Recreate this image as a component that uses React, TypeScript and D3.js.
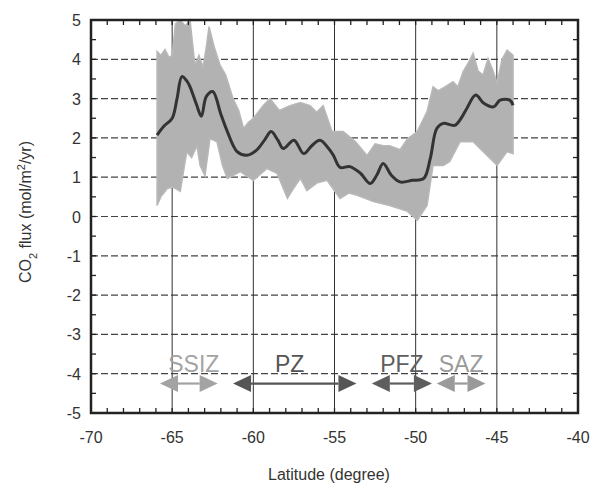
import React from "react";
import * as d3 from "d3";

// ---- data ----
const meanLat = [-65.93, -65.5, -65.0, -64.7, -64.4, -64.1, -63.9, -63.5, -63.2, -62.9, -62.5, -62.0, -61.6, -61.0, -60.4, -59.8, -59.3, -58.9, -58.5, -58.15, -57.5, -56.9, -56.4, -55.9, -55.4, -55.07, -54.66, -54.05, -53.4, -52.8, -52.4, -52.0, -51.5, -50.97, -50.2, -49.5, -49.1, -48.7, -48.3, -47.6, -47.2, -46.85, -46.3, -45.8, -45.2, -44.8, -44.2, -44.0];
const meanFlux = [2.07, 2.3, 2.5, 3.0, 3.56, 3.45, 3.3, 2.85, 2.55, 3.05, 3.18, 2.6, 2.16, 1.65, 1.56, 1.69, 1.95, 2.16, 1.95, 1.73, 1.94, 1.6, 1.8, 1.94, 1.75, 1.56, 1.25, 1.27, 1.1, 0.84, 1.05, 1.35, 1.05, 0.88, 0.92, 0.97, 1.48, 2.24, 2.37, 2.32, 2.5, 2.75, 3.09, 2.88, 2.79, 2.96, 2.96, 2.83];

const upperLat = [-65.93, -65.7, -65.44, -65.2, -65.0, -64.8, -64.5, -64.2, -63.9, -63.6, -63.35, -63.1, -62.9, -62.73, -62.4, -62.05, -61.7, -61.25, -60.9, -60.6, -60.3, -60.0, -59.4, -58.97, -58.4, -57.74, -57.1, -56.5, -56.1, -55.7, -55.15, -54.47, -53.7, -53.0, -52.5, -52.0, -51.6, -50.96, -50.5, -49.9, -49.3, -48.93, -48.6, -48.2, -47.7, -47.4, -47.08, -46.77, -46.46, -46.15, -45.85, -45.54, -45.23, -44.98, -44.68, -44.37, -44.0];
const upperFlux = [4.2, 4.1, 4.25, 4.05, 4.1, 4.9, 5.0, 4.85, 5.0, 3.85, 4.1, 3.8, 4.3, 4.83, 4.3, 3.85, 3.6, 3.0, 2.7, 2.24, 2.4, 2.5, 2.82, 3.0, 2.7, 2.82, 2.9, 2.82, 2.65, 2.82, 2.16, 2.16, 1.9, 1.55, 1.85, 1.8, 1.8, 1.7, 1.98, 2.16, 2.67, 3.3, 3.2, 3.3, 3.43, 3.3, 3.68, 3.9, 4.15, 3.7, 3.6, 4.02, 3.7, 3.4, 4.0, 4.23, 4.1];

const lowerLat = [-65.93, -65.7, -65.3, -64.95, -64.5, -64.1, -63.8, -63.47, -63.28, -62.98, -62.67, -62.24, -61.9, -61.6, -60.8, -60.0, -59.16, -58.54, -57.9, -57.55, -57.1, -56.7, -56.1, -55.46, -54.66, -54.1, -53.6, -52.6, -51.6, -50.5, -49.9, -49.3, -48.93, -48.3, -47.9, -47.27, -46.46, -45.6, -44.98, -44.37, -44.0];
const lowerFlux = [0.28, 0.5, 0.71, 0.75, 0.64, 1.65, 1.5, 1.8, 1.3, 1.04, 1.98, 1.9, 1.3, 0.97, 1.14, 0.92, 1.22, 1.1, 0.46, 0.7, 0.97, 0.66, 0.85, 0.92, 0.46, 0.6, 0.54, 0.38, 0.28, 0.13, -0.1, 0.28, 1.3, 1.3, 1.4, 1.9, 1.9, 1.55, 1.3, 1.65, 1.6];

const zoneNames = ["SSIZ", "PZ", "PFZ", "SAZ"];
const zoneStart = [-65.75, -61.25, -52.7, -48.7];
const zoneEnd = [-62.2, -53.65, -49.0, -45.7];
const zoneColors = ["#a3a3a3", "#555555", "#5e5e5e", "#9a9a9a"];
const zoneY = -4.25;

const xTicks = [-70, -65, -60, -55, -50, -45, -40];
const yTicks = [5, 4, 3, 2, 1, 0, -1, -2, -3, -4, -5];

export default function App() {
  const W = 594, H = 486;
  const left = 91, right = 578, top = 20, bottom = 413;
  const x = d3.scaleLinear().domain([-70, -40]).range([left, right]);
  const y = d3.scaleLinear().domain([-5, 5]).range([bottom, top]);

  const bandPts: [number, number][] = [
    ...upperLat.map((l, i) => [x(l), y(upperFlux[i])] as [number, number]),
    ...lowerLat.map((l, i) => [x(l), y(lowerFlux[i])] as [number, number]).reverse(),
  ];
  const bandPath = d3.line().curve(d3.curveLinearClosed)(bandPts) || "";
  const meanPath =
    d3
      .line<number>()
      .x((l) => x(l))
      .y((_, i) => y(meanFlux[i]))
      .curve(d3.curveCatmullRom)(meanLat) || "";

  const minorX = d3.range(-70, -39.5, 1);
  const minorY = d3.range(-5, 5.01, 0.5);
  const font = "Liberation Sans, Arial, sans-serif";
  const hw = 18, hh = 8.5;

  return (
    <svg width={W} height={H} style={{ position: "absolute", left: 0, top: 0, background: "#fff" }}>
      {/* horizontal dashed grid */}
      {yTicks.filter((t) => t !== 5 && t !== -5).map((t) => (
        <line key={"hg" + t} x1={left} x2={right} y1={y(t)} y2={y(t)} stroke="#444" strokeWidth={1.2} strokeDasharray="7,3" />
      ))}
      {/* vertical grid */}
      {xTicks.filter((t) => t !== -70 && t !== -40).map((t) => (
        <line key={"vg" + t} x1={x(t)} x2={x(t)} y1={top} y2={bottom} stroke="#333" strokeWidth={1} />
      ))}
      {/* band */}
      <path d={bandPath} fill="#b2b2b2" stroke="#b8b8b8" strokeWidth={1.5} />
      {/* mean line */}
      <path d={meanPath} fill="none" stroke="#333" strokeWidth={3} strokeLinejoin="round" />
      {/* minor ticks */}
      {minorX.map((t) => (
        <g key={"mx" + t}>
          <line x1={x(t)} x2={x(t)} y1={top} y2={top + 5} stroke="#222" strokeWidth={1.3} />
          <line x1={x(t)} x2={x(t)} y1={bottom} y2={bottom - 5} stroke="#222" strokeWidth={1.3} />
        </g>
      ))}
      {minorY.map((t) => (
        <g key={"my" + t}>
          <line x1={left} x2={left + 5} y1={y(t)} y2={y(t)} stroke="#222" strokeWidth={1.3} />
          <line x1={right} x2={right - 5} y1={y(t)} y2={y(t)} stroke="#222" strokeWidth={1.3} />
        </g>
      ))}
      {/* frame */}
      <rect x={left} y={top} width={right - left} height={bottom - top} fill="none" stroke="#222" strokeWidth={2.5} />
      {/* zones */}
      {zoneNames.map((n, i) => {
        const x1 = x(zoneStart[i]), x2 = x(zoneEnd[i]), yy = y(zoneY);
        const c = zoneColors[i];
        return (
          <g key={n}>
            <line x1={x1 + hw} x2={x2 - hw} y1={yy} y2={yy} stroke={c} strokeWidth={2.2} />
            <path d={`M${x1},${yy} L${x1 + hw},${yy - hh} L${x1 + hw},${yy + hh} Z`} fill={c} />
            <path d={`M${x2},${yy} L${x2 - hw},${yy - hh} L${x2 - hw},${yy + hh} Z`} fill={c} />
            <text x={(x1 + x2) / 2 + (i === 0 ? 5 : i === 1 ? -5 : 0)} y={372} textAnchor="middle" fontFamily={font} fontSize={23} fill={c}>
              {n}
            </text>
          </g>
        );
      })}
      {/* tick labels */}
      {yTicks.map((t) => (
        <text key={"yl" + t} x={81} y={y(t) + 6} textAnchor="end" fontFamily={font} fontSize={16} fill="#333">
          {t}
        </text>
      ))}
      {xTicks.map((t) => (
        <text key={"xl" + t} x={x(t)} y={443} textAnchor="middle" fontFamily={font} fontSize={16} fill="#333">
          {t}
        </text>
      ))}
      <text x={329} y={480} textAnchor="middle" fontFamily={font} fontSize={16} fill="#333">
        Latitude (degree)
      </text>
      <text transform="translate(31,212) rotate(-90)" textAnchor="middle" fontFamily={font} fontSize={16} fill="#333">
        CO<tspan baselineShift="sub" fontSize={11}>2</tspan>
        <tspan> flux (mol/m</tspan>
        <tspan baselineShift="super" fontSize={11}>2</tspan>
        <tspan>/yr)</tspan>
      </text>
    </svg>
  );
}
